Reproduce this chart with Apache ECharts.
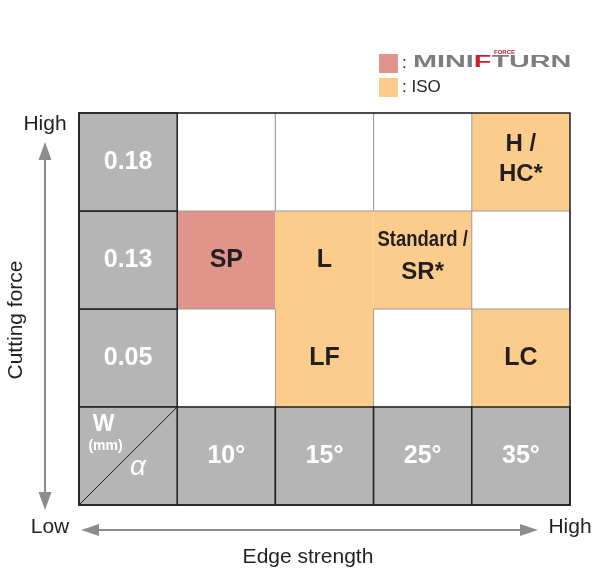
<!DOCTYPE html>
<html>
<head>
<meta charset="utf-8">
<script src="https://cdn.jsdelivr.net/npm/echarts@6/dist/echarts.min.js"></script>
<style>
html, body { margin: 0; padding: 0; background: #fff; }
#chart { width: 592px; height: 573px; }
</style>
</head>
<body>
<div id="chart"></div>
<script>
// rake angle columns and chip width rows
var angles = ['10°', '15°', '25°', '35°'];
var widths = ['0.05', '0.13', '0.18'];
// [label, angle index, width index]
var miniForceTurn = [['SP', 0, 1]];
var iso = [['L', 1, 1], ['LF', 1, 0], ['Standard /|SR*', 2, 1], ['H /|HC*', 3, 2], ['LC', 3, 0]];

var GRAY = '#b5b5b5', PINK = '#e1958a', ORANGE = '#fbcc8b', DARK = '#231f20';
var FONT = '"Liberation Sans", Arial, sans-serif';

// build the cell list: colored chips first, blanks, then the gray headers
var cells = [];
var used = {};
miniForceTurn.forEach(function (c) { cells.push({ col: c[1] + 1, row: c[2] + 1, kind: 'mft', label: c[0] }); used[(c[1] + 1) + '_' + (c[2] + 1)] = 1; });
iso.forEach(function (c) { cells.push({ col: c[1] + 1, row: c[2] + 1, kind: 'iso', label: c[0] }); used[(c[1] + 1) + '_' + (c[2] + 1)] = 1; });
for (var c = 1; c <= angles.length; c++) {
    for (var r = 1; r <= widths.length; r++) {
        if (!used[c + '_' + r]) cells.push({ col: c, row: r, kind: 'blank', label: '' });
    }
}
widths.forEach(function (w, i) { cells.push({ col: 0, row: i + 1, kind: 'head', label: w }); });
angles.forEach(function (a, i) { cells.push({ col: i + 1, row: 0, kind: 'head', label: a }); });
cells.push({ col: 0, row: 0, kind: 'corner', label: '' });

function txt(text, x, y, fill, font, extra) {
    var el = { type: 'text', z2: 20, x: x, y: y, style: { text: text, x: 0, y: 0, align: 'center', verticalAlign: 'middle', fill: fill, font: font } };
    if (extra) for (var k in extra) el[k] = extra[k];
    return el;
}

function renderCell(params, api) {
    var cell = cells[params.dataIndex];
    var a = api.coord([cell.col, cell.row + 1]);
    var b = api.coord([cell.col + 1, cell.row]);
    var x = a[0], y = a[1], w = b[0] - a[0], h = b[1] - a[1];
    var cx = x + w / 2, cy = y + h / 2;
    var children = [];
    if (cell.kind === 'blank') {
        children.push({ type: 'rect', shape: { x: x, y: y, width: w, height: h }, style: { fill: '#fff', stroke: '#9b9b9b', lineWidth: 1 } });
    } else if (cell.kind === 'mft' || cell.kind === 'iso') {
        children.push({ type: 'rect', shape: { x: x, y: y, width: w, height: h }, style: { fill: cell.kind === 'mft' ? PINK : ORANGE } });
        var parts = cell.label.split('|');
        if (parts.length === 1) {
            children.push(txt(parts[0], cx, cy, DARK, 'bold 25px ' + FONT));
        } else if (parts[0].length > 4) {
            children.push(txt(parts[0], cx, cy - 20, DARK, 'bold 22px ' + FONT, { scaleX: 0.84 }));
            children.push(txt(parts[1], cx, cy + 12, DARK, 'bold 24px ' + FONT));
        } else {
            children.push(txt(parts[0], cx, cy - 18, DARK, 'bold 24px ' + FONT));
            children.push(txt(parts[1], cx, cy + 12, DARK, 'bold 24px ' + FONT));
        }
    } else if (cell.kind === 'head') {
        children.push({ type: 'rect', shape: { x: x, y: y, width: w, height: h }, style: { fill: GRAY, stroke: DARK, lineWidth: 1.5 } });
        children.push(txt(cell.label, cx, cy, '#fff', 'bold 25px ' + FONT));
    } else {
        children.push({ type: 'rect', shape: { x: x, y: y, width: w, height: h }, style: { fill: GRAY, stroke: DARK, lineWidth: 1.5 } });
        children.push({ type: 'line', shape: { x1: x, y1: y + h, x2: x + w, y2: y }, style: { stroke: DARK, lineWidth: 1 } });
        children.push(txt('W', x + w * 0.25, y + h * 0.18, '#fff', 'bold 23px ' + FONT));
        children.push(txt('(mm)', x + w * 0.27, y + h * 0.40, '#fff', 'bold 14px ' + FONT));
        children.push(txt('α', x + w * 0.60, y + h * 0.61, '#fff', 'italic 28px ' + FONT));
    }
    return { type: 'group', children: children };
}

var chart = echarts.init(document.getElementById('chart'));
var ARROW = '#8c8c8c';
chart.setOption({
    animation: false,
    grid: { left: 79, top: 113, width: 491, height: 392, show: true, z: 10, backgroundColor: 'transparent', borderColor: DARK, borderWidth: 1.5 },
    xAxis: { type: 'value', min: 0, max: angles.length + 1, show: false },
    yAxis: { type: 'value', min: 0, max: widths.length + 1, show: false },
    series: [{
        type: 'custom',
        clip: false,
        renderItem: renderCell,
        encode: { x: 0, y: 1 },
        data: cells.map(function (c) { return [c.col, c.row]; })
    }],
    graphic: [
        // legend
        { type: 'rect', shape: { x: 379, y: 54, width: 19, height: 19 }, style: { fill: PINK } },
        { type: 'rect', shape: { x: 379, y: 78, width: 19, height: 19 }, style: { fill: ORANGE } },
        { type: 'text', style: { text: ':', x: 402, y: 63, verticalAlign: 'middle', fill: DARK, font: '17px ' + FONT } },
        { type: 'text', style: { text: ': ISO', x: 402, y: 87, verticalAlign: 'middle', fill: DARK, font: '17px ' + FONT } },
        { type: 'text', x: 413, y: 62.5, scaleX: 1.8, style: { text: '{g|MINI}{r|F}{g|TURN}', x: 0, y: 0, verticalAlign: 'middle',
            rich: {
                g: { fill: '#7d7d7d', font: 'bold 16px ' + FONT, textStroke: '#7d7d7d', textStrokeWidth: 0.8 },
                r: { fill: '#c8202c', font: 'bold 16px ' + FONT, textStroke: '#c8202c', textStrokeWidth: 0.8 }
            } } },
        { type: 'text', style: { text: 'FORCE', x: 494, y: 52, verticalAlign: 'middle', fill: '#c8202c', font: 'bold 6px ' + FONT } },
        // vertical arrow
        { type: 'line', shape: { x1: 45, y1: 158, x2: 45, y2: 494 }, style: { stroke: ARROW, lineWidth: 2 } },
        { type: 'polygon', shape: { points: [[45, 142], [38.5, 160], [51.5, 160]] }, style: { fill: ARROW } },
        { type: 'polygon', shape: { points: [[45, 510], [38.5, 492], [51.5, 492]] }, style: { fill: ARROW } },
        // horizontal arrow
        { type: 'line', shape: { x1: 97, y1: 530, x2: 522, y2: 530 }, style: { stroke: ARROW, lineWidth: 2 } },
        { type: 'polygon', shape: { points: [[81, 530], [99, 524], [99, 536]] }, style: { fill: ARROW } },
        { type: 'polygon', shape: { points: [[538, 530], [520, 524], [520, 536]] }, style: { fill: ARROW } },
        // axis captions
        { type: 'text', style: { text: 'High', x: 45, y: 124, align: 'center', verticalAlign: 'middle', fill: DARK, font: '21px ' + FONT } },
        { type: 'text', style: { text: 'Low', x: 50, y: 527, align: 'center', verticalAlign: 'middle', fill: DARK, font: '21px ' + FONT } },
        { type: 'text', style: { text: 'High', x: 570, y: 527, align: 'center', verticalAlign: 'middle', fill: DARK, font: '21px ' + FONT } },
        { type: 'text', style: { text: 'Edge strength', x: 308, y: 557, align: 'center', verticalAlign: 'middle', fill: DARK, font: '21px ' + FONT } },
        { type: 'text', x: 16, y: 320, rotation: Math.PI / 2, style: { text: 'Cutting force', x: 0, y: 0, align: 'center', verticalAlign: 'middle', fill: DARK, font: '21px ' + FONT } }
    ]
});
</script>
</body>
</html>
